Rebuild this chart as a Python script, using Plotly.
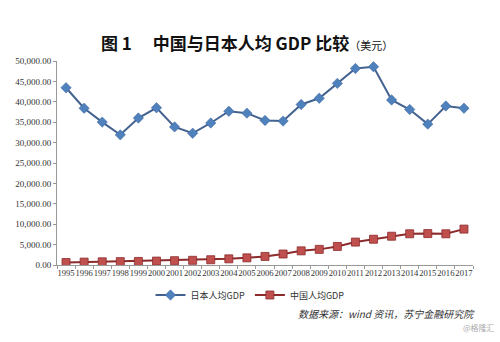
import plotly.graph_objects as go

years = [str(y) for y in range(1995, 2018)]
japan = [43440, 38437, 35022, 31903, 36026, 38532, 33846, 32289, 34808, 37688,
         37218, 35434, 35275, 39339, 40855, 44507, 48168, 48603, 40454, 38109,
         34524, 38972, 38430]
china = [610, 709, 782, 829, 873, 959, 1053, 1149, 1289, 1509,
         1753, 2099, 2694, 3468, 3832, 4550, 5618, 6317, 7051, 7651,
         7700, 7650, 8800]
yticks = list(range(0, 50001, 5000))
ytext = [f"{v:,.2f}" for v in yticks]

L, R, T, B = 57, 27, 61, 77
pw = 500 - L - R
ph = 342 - T - B


def px(x):
    return (x - L) / pw


def py(y):
    return (342 - B - y) / ph


fig = go.Figure()
fig.add_trace(go.Scatter(
    x=years, y=japan, name="日本人均GDP", mode="lines+markers",
    line=dict(color="#44628f", width=2),
    marker=dict(symbol="diamond", size=8, color="#4f81bd", line=dict(color="#3f6497", width=0.5)),
))
fig.add_trace(go.Scatter(
    x=years, y=china, name="中国人均GDP", mode="lines+markers",
    line=dict(color="#8c2a2c", width=2),
    marker=dict(symbol="square", size=8, color="#c0504d", line=dict(color="#8c2a2c", width=0.8)),
))

fig.update_layout(
    width=500, height=342,
    margin=dict(l=L, r=R, t=T, b=B),
    paper_bgcolor="white", plot_bgcolor="white",
    showlegend=True,
    legend=dict(orientation="h", x=px(250), xanchor="center", y=py(295), yanchor="middle",
                font=dict(family="Noto Sans CJK SC", size=9, color="#333"),
                tracegroupgap=0),
    annotations=[
        dict(text="<b>图 1　 中国与日本人均 GDP 比较</b><span style='font-size:11px'>（美元）</span>",
             x=px(247), y=py(28), xref="paper", yref="paper", showarrow=False,
             font=dict(family="Noto Sans CJK SC", size=17, color="#111")),
        dict(text="<i>数据来源：wind 资讯，苏宁金融研究院</i>",
             x=px(477), y=py(323), xref="paper", yref="paper", showarrow=False, xanchor="right",
             font=dict(family="Noto Sans CJK SC", size=10, color="#333")),
        dict(text="@格隆汇", x=px(497), y=py(335), xref="paper", yref="paper",
             showarrow=False, xanchor="right",
             font=dict(family="Noto Sans CJK SC", size=8, color="#aaa")),
    ],
)

fig.update_xaxes(
    type="category", range=[-0.5, 22.5],
    showline=True, linecolor="#999", linewidth=1,
    ticks="outside", tickson="boundaries", ticklen=3, tickcolor="#999",
    showgrid=False, tickangle=0,
    tickfont=dict(family="Liberation Serif", size=8.6, color="#333"),
)
fig.update_yaxes(
    range=[0, 50000], tickvals=yticks, ticktext=ytext,
    showline=True, linecolor="#999", linewidth=1,
    ticks="outside", ticklen=3, tickcolor="#999",
    showgrid=False, zeroline=False,
    tickfont=dict(family="Liberation Serif", size=9, color="#333"),
)

fig.write_html("out.html")
